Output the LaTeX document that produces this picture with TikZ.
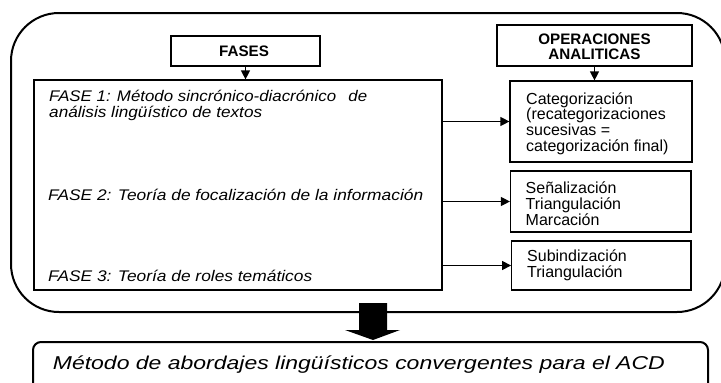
\documentclass[tikz,border=0pt]{standalone}
\usepackage{fontspec}
\usepackage{graphicx}
\setmainfont{Liberation Sans}
\usetikzlibrary{arrows.meta}
\begin{document}
\begin{tikzpicture}[x=1pt,y=-1pt,
  box/.style={draw=black, line width=1.2pt, rectangle, inner sep=0pt},
  lbl/.style={anchor=base west, inner sep=0pt, font=\fontsize{16}{19}\selectfont},
  fas/.style={anchor=base west, inner sep=0pt, font=\fontsize{15.4}{18}\selectfont\itshape},
  hdr/.style={anchor=base, inner sep=0pt, font=\fontsize{15.2}{18}\selectfont\bfseries},
  arr/.style={line width=1.2pt, -{Triangle[length=9pt,width=9pt]}}
]
\clip (0,0) rectangle (721,383);
% outer rounded frame (its right side runs past the picture edge)
\node[draw=black, line width=2pt, rounded corners=48pt, minimum width=714pt, minimum height=299pt, inner sep=0pt] (outer) at (368,162.5) {};
% headers
\node[box, minimum width=149pt, minimum height=30pt] (fases) at (245.5,51) {};
\node[hdr] (fasestxt) at (244,56.7) {FASES};
\node[box, minimum width=195pt, minimum height=41pt] (ops) at (594.5,45.5) {};
\node[hdr] (opstxt1) at (594.5,44.3) {OPERACIONES};
\node[hdr] (opstxt2) at (594.5,59) {ANALITICAS};
% phases box
\node[box, minimum width=408pt, minimum height=210pt] (phases) at (238,185) {};
\node[fas] (f1a) at (49,101.7) {\resizebox{318pt}{\height}{FASE 1: Método sincrónico-diacrónico\hspace{0.45em} de}};
\node[fas] (f1b) at (49,117) {\resizebox{213pt}{\height}{análisis lingüístico de textos}};
\node[fas] (f2) at (48,200) {\resizebox{375pt}{\height}{FASE 2: Teoría de focalización de la información}};
\node[fas] (f3) at (48,281) {\resizebox{264pt}{\height}{FASE 3: Teoría de roles temáticos}};
% operation boxes
\node[box, minimum width=182pt, minimum height=81pt] (cat) at (601,121.5) {};
\node[lbl] (c1) at (526,104) {Categorización};
\node[lbl] (c2) at (526,119.7) {(recategorizaciones};
\node[lbl] (c3) at (526,135.4) {sucesivas =};
\node[lbl] (c4) at (526,151) {categorización final)};
\node[box, minimum width=180.5pt, minimum height=61pt] (sen) at (600.75,201.5) {};
\node[lbl] (s1) at (525.5,193) {Señalización};
\node[lbl] (s2) at (525.5,209) {Triangulación};
\node[lbl] (s3) at (525.5,225) {Marcación};
\node[box, minimum width=179.3pt, minimum height=49pt] (sub) at (601.35,265.5) {};
\node[lbl] (u1) at (527,261.7) {Subindización};
\node[lbl] (u2) at (527,277) {Triangulación};
% connectors
\draw[arr] (fases.south) -- (fases.south |- phases.north);
\draw[arr] (ops.south) -- (ops.south |- cat.north);
\draw[arr] (phases.east |- cat.west) -- (cat.west);
\draw[arr] (phases.east |- sen.west) -- (sen.west);
\draw[arr] (phases.east |- sub.west) -- (sub.west);
% final box
\node[draw=black, line width=2pt, rounded corners=8pt, minimum width=675pt, minimum height=60pt, inner sep=0pt] (final) at (370.5,372) {};
\node[anchor=base west, inner sep=0pt, font=\fontsize{18.6}{22}\selectfont\itshape] (ftxt) at (52.7,369) {\resizebox{612pt}{\height}{Método de abordajes lingüísticos convergentes para el ACD}};
% block arrow
\fill[black] (359,303) -- (387,303) -- (387,330) -- (400,330) -- (373,340) -- (345,330) -- (359,330) -- cycle;
\end{tikzpicture}
\end{document}
